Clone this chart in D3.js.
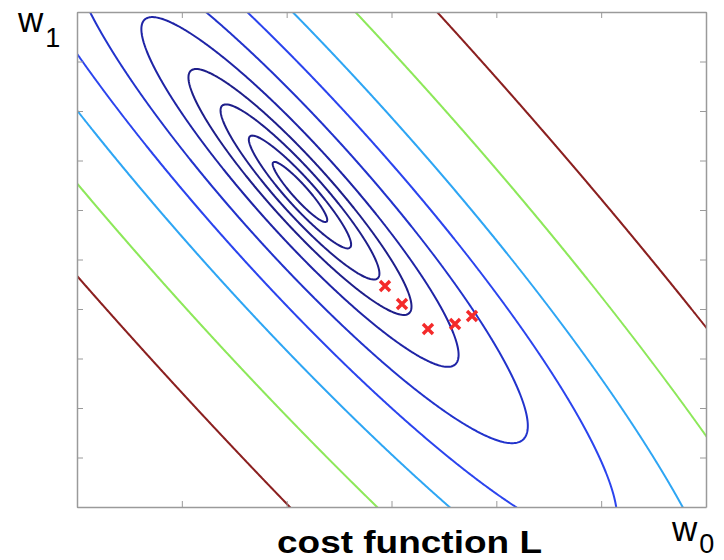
<!DOCTYPE html>
<html>
<head>
<meta charset="utf-8">
<title>cost function L</title>
<script src="https://d3js.org/d3.v7.min.js"></script>
<style>
body { margin: 0; background: #fff; }
text { font-family: "Liberation Sans", Arial, Helvetica, sans-serif; fill: #000; }
.axis path, .axis line { stroke: #9a9a9a; }
</style>
</head>
<body>
<svg class="chart"></svg>
<script>
// contour levels of L (one per drawn ellipse, inner to outer)
var levels = [0.16, 0.56, 1.35, 2.66, 5.38, 11.1, 21.5, 39.3, 74.8, 140];
var levelColors = ["#1e1e8a", "#1e1e8a", "#1e1e8a", "#1e1e8a", "#1f24a6", "#2233cc", "#2b44ee", "#2ea6f4", "#8de85a", "#8b2020"];

// quadratic cost L = A dw0^2 + 2B dw0 dw1 + C dw1^2 around the minimum
var costCentre = [2.127, 6.364];
var costA = 17.66, costB = 7.042, costC = 3.239;

// gradient-descent iterates (w0, w1)
var stepsW0 = [2.938, 3.100, 3.348, 3.606, 3.768];
var stepsW1 = [4.465, 4.101, 3.596, 3.697, 3.859];

var xTicks = d3.range(0, 7);
var yTicks = d3.range(0, 11);

var svgWidth = 724, svgHeight = 560;
var margin = {top: 12, right: 18, bottom: 53, left: 77};
var width = svgWidth - margin.left - margin.right;
var height = svgHeight - margin.top - margin.bottom;

var xScale = d3.scaleLinear().domain([0, 6]).range([0, width]);
var yScale = d3.scaleLinear().domain([0, 10]).range([height, 0]);

var svg = d3.select(".chart").attr("width", svgWidth).attr("height", svgHeight);
var chart = svg.append("g").attr("transform", "translate(" + margin.left + "," + margin.top + ")");

chart.append("clipPath").attr("id", "plotClip")
    .append("rect").attr("width", width).attr("height", height);

// sample the cost on a pixel grid a little larger than the plot
var cell = 1.5, pad = 30;
var gx0 = -pad, gy0 = -pad;
var nx = Math.ceil((width + 2 * pad) / cell), ny = Math.ceil((height + 2 * pad) / cell);
var grid = new Array(nx * ny);
for (var j = 0; j < ny; j++) {
    for (var i = 0; i < nx; i++) {
        var d0 = xScale.invert(gx0 + (i + 0.5) * cell) - costCentre[0];
        var d1 = yScale.invert(gy0 + (j + 0.5) * cell) - costCentre[1];
        grid[i + j * nx] = costA * d0 * d0 + 2 * costB * d0 * d1 + costC * d1 * d1;
    }
}

var contours = d3.contours().size([nx, ny]).thresholds(levels)(grid);
var path = d3.geoPath(d3.geoTransform({
    point: function(x, y) { this.stream.point(gx0 + x * cell, gy0 + y * cell); }
}));

chart.append("g").attr("clip-path", "url(#plotClip)")
    .selectAll("path").data(contours).enter().append("path")
        .attr("d", path)
        .attr("fill", "none")
        .attr("stroke", function(d, i) { return levelColors[i]; })
        .attr("stroke-width", 2)
        .attr("stroke-linejoin", "round");

// axes box with inward ticks, no labels
var tick = 6;
chart.append("g").attr("class", "axis")
    .attr("transform", "translate(0," + height + ")")
    .call(d3.axisBottom(xScale).tickValues(xTicks).tickSizeInner(-tick).tickSizeOuter(0).tickFormat(""));
chart.append("g").attr("class", "axis")
    .call(d3.axisTop(xScale).tickValues(xTicks).tickSizeInner(-tick).tickSizeOuter(0).tickFormat(""));
chart.append("g").attr("class", "axis")
    .call(d3.axisLeft(yScale).tickValues(yTicks).tickSizeInner(-tick).tickSizeOuter(0).tickFormat(""));
chart.append("g").attr("class", "axis")
    .attr("transform", "translate(" + width + ",0)")
    .call(d3.axisRight(yScale).tickValues(yTicks).tickSizeInner(-tick).tickSizeOuter(0).tickFormat(""));
chart.selectAll(".axis path").attr("stroke-width", 1.5);

// iterates as red crosses
var steps = stepsW0.map(function(w0, i) { return {w0: w0, w1: stepsW1[i]}; });
var cross = chart.selectAll(".step").data(steps).enter().append("g")
    .attr("class", "step")
    .attr("transform", function(d) { return "translate(" + xScale(d.w0) + "," + yScale(d.w1) + ")"; });
cross.append("path")
    .attr("d", "M-5,-5L5,5M-5,5L5,-5")
    .attr("stroke", "#f42a2a")
    .attr("stroke-width", 3.4);

// labels
var w1Label = svg.append("text").attr("x", 18).attr("y", 32).style("font-size", "35px");
w1Label.append("tspan").text("w");
w1Label.append("tspan").attr("dx", 2).attr("dy", 15).style("font-size", "27px").text("1");

var w0Label = svg.append("text").attr("x", 672).attr("y", 541).style("font-size", "35px");
w0Label.append("tspan").text("w");
w0Label.append("tspan").attr("dx", 2).attr("dy", 12).style("font-size", "27px").text("0");

svg.append("text")
    .attr("x", 277).attr("y", 553)
    .attr("textLength", 265).attr("lengthAdjust", "spacingAndGlyphs")
    .style("font-size", "31px").style("font-weight", "bold")
    .text("cost function L");
</script>
</body>
</html>
